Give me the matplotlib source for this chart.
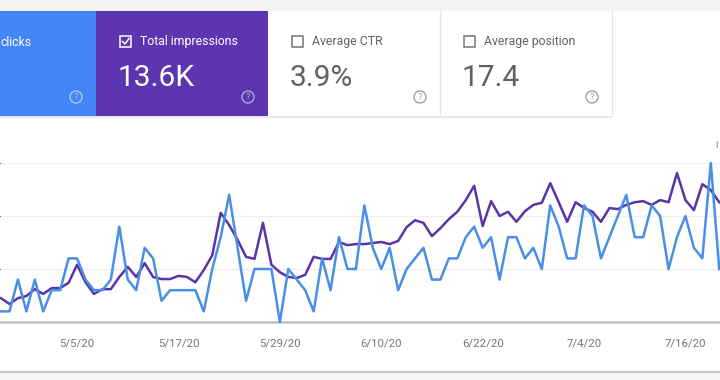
import matplotlib
matplotlib.use("Agg")
import matplotlib.pyplot as plt
import matplotlib.dates as mdates
from matplotlib.patches import Rectangle, Circle
import pandas as pd

plt.rcParams['font.family'] = ['Roboto', 'DejaVu Sans']

# daily values, 4/26/20 .. 7/20/20
start = "2020-04-26"
clicks = [1, 1, 4, 1, 4, 1, 3, 3, 6, 6,
          4, 3, 3, 4, 9, 4, 3, 7, 6, 2,
          3, 3, 3, 3, 1, 5, 8, 12, 7, 2,
          5, 5, 5, 0, 5, 4, 3, 1, 6, 3,
          8, 5, 5, 11, 7, 5, 7, 3, 5, 6,
          7, 4, 4, 6, 6, 8, 9, 7, 8, 4,
          8, 8, 6, 7, 5, 11, 9, 6, 6, 11,
          10, 6, 8, 10, 12, 8, 8, 11, 10, 5,
          8, 10, 7, 6, 15, 5]
impressions = [45, 34, 45, 49, 62, 53, 64, 64, 74, 108,
               75, 53, 62, 62, 85, 104, 85, 111, 85, 81,
               81, 87, 85, 75, 98, 126, 206, 183, 155, 123,
               119, 187, 108, 94, 85, 83, 89, 123, 119, 119,
               151, 145, 147, 147, 149, 151, 147, 153, 179, 192,
               187, 162, 177, 194, 208, 230, 257, 181, 228, 200,
               208, 189, 209, 221, 225, 262, 226, 189, 226, 215,
               208, 189, 215, 213, 221, 226, 228, 221, 230, 226,
               281, 230, 211, 260, 249, 226]
tick_labels = ["5/5/20", "5/17/20", "5/29/20", "6/10/20", "6/22/20", "7/4/20", "7/16/20"]

# first card is cut off by the screenshot, only "clicks" shows
card_titles = ["clicks", "Total impressions", "Average CTR", "Average position"]
card_values = ["", "13.6K", "3.9%", "17.4"]
card_checked = [True, True, False, False]
card_colors = ["#4285f4", "#5e35b1", "white", "white"]

dates = pd.date_range(start, periods=len(clicks), freq="D")

fig = plt.figure(figsize=(7.2, 3.8), dpi=100)

# background / cards drawn in pixel coords
bg = fig.add_axes([0, 0, 1, 1])
bg.set_xlim(0, 720)
bg.set_ylim(380, 0)
bg.axis("off")
bg.add_patch(Rectangle((0, 0), 720, 11, color="#f4f4f4", lw=0))
bg.add_patch(Rectangle((0, 372), 720, 8, color="#f5f5f5", lw=0))
bg.plot([0, 720], [372, 372], color="#c6c6c6", lw=1.6)
bg.plot([-80, 611], [116.5, 116.5], color="#e3e3e3", lw=1.2)

for i, title in enumerate(card_titles):
    left = -76 + 172 * i
    col = card_colors[i]
    dark = col != "white"
    fg = "white" if dark else "#5f6368"
    bg.add_patch(Rectangle((left, 11), 172, 105, color=col, lw=0))
    if not dark:
        bg.plot([left + 171.5, left + 171.5], [11, 116], color="#e6e6e6", lw=1)
    if i == 0:
        bg.text(0.5, 42, title, color=fg, fontsize=8.8, va="center", ha="left")
    else:
        # checkbox
        bg.add_patch(Rectangle((left + 24, 36), 11, 11, fill=False,
                               ec=fg if dark else "#757575", lw=1.1))
        if card_checked[i]:
            bg.plot([left + 26.5, left + 29, left + 33], [41.5, 44, 38.5], color=fg, lw=1.1)
        bg.text(left + 44, 42, title, color=fg, fontsize=8.8, va="center", ha="left")
    if card_values[i]:
        bg.text(left + 22, 86, card_values[i], color=fg if dark else "#616161",
                fontsize=21.5, va="baseline", ha="left")
    qc = (1, 1, 1, 0.55) if dark else "#a0a0a0"
    bg.add_patch(Circle((left + 152, 97), 6, fill=False, ec=qc, lw=1))
    bg.text(left + 152, 97.5, "?", color=qc, fontsize=6.5, ha="center", va="center")

bg.text(716, 145, "I", color="#757575", fontsize=6.5, ha="center", va="center")

# chart
ax = fig.add_axes([0, 1 - 322 / 380, 1, 159 / 380])
ax.patch.set_alpha(0)
x0 = mdates.date2num(dates[0]) - 1 / 8.45
ax.set_xlim(x0, x0 + 720 / 8.45)
ax.set_ylim(0, 300)
ax.plot(dates, impressions, color="#5a35a8", lw=1.8, clip_on=False, zorder=3)
ax.set_yticks([0, 100, 200, 300])
ax.yaxis.grid(True, color="#efefef", lw=1)
ax.set_axisbelow(True)
ax.tick_params(axis="y", left=False, labelleft=False)
ax.set_xticks(pd.to_datetime(tick_labels, format="%m/%d/%y"))
ax.set_xticklabels(tick_labels)
ax.tick_params(axis="x", length=0, pad=12, labelsize=8.2, labelcolor="#757575")
for s in ["top", "left", "right"]:
    ax.spines[s].set_visible(False)
ax.spines["bottom"].set_color("#c2c2c2")
ax.spines["bottom"].set_linewidth(1.8)

ax2 = ax.twinx()
ax2.set_ylim(0, 15)
ax2.plot(dates, clicks, color="#4a8fe6", lw=1.8, clip_on=False, zorder=3)
ax2.axis("off")

fig.savefig("out.png", dpi=100)
